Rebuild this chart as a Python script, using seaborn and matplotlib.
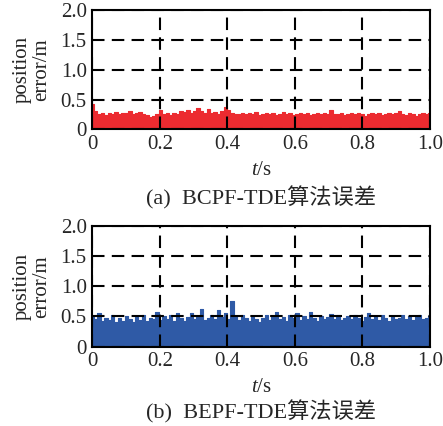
import numpy as np
import matplotlib
matplotlib.use("Agg")
import matplotlib.pyplot as plt
import seaborn as sns
import pandas as pd

# ---- data (upper envelope of the dense error signal) ----
red_upper = [0.42,0.30,0.26,0.28,0.24,0.27,0.25,0.29,0.26,0.28,
             0.27,0.30,0.25,0.28,0.29,0.26,0.24,0.21,0.22,0.26,
             0.33,0.25,0.27,0.24,0.28,0.26,0.30,0.29,0.33,0.27,
             0.31,0.35,0.30,0.28,0.34,0.27,0.29,0.26,0.31,0.37,
             0.33,0.27,0.26,0.25,0.28,0.26,0.27,0.25,0.29,0.24,
             0.26,0.27,0.25,0.28,0.24,0.26,0.29,0.25,0.27,0.24,
             0.26,0.28,0.25,0.27,0.24,0.26,0.27,0.25,0.28,0.26,
             0.33,0.26,0.25,0.27,0.24,0.26,0.28,0.25,0.27,0.25,
             0.22,0.26,0.28,0.25,0.27,0.24,0.26,0.28,0.25,0.27,
             0.31,0.26,0.24,0.27,0.25,0.22,0.26,0.28,0.25,0.27]
blue_upper = [0.50,0.45,0.55,0.42,0.48,0.44,0.52,0.40,0.47,0.43,
              0.50,0.46,0.41,0.49,0.44,0.53,0.42,0.47,0.45,0.58,
              0.44,0.50,0.46,0.52,0.43,0.55,0.47,0.42,0.49,0.56,
              0.45,0.51,0.62,0.44,0.48,0.53,0.46,0.60,0.49,0.55,
              0.45,0.75,0.50,0.44,0.52,0.47,0.42,0.49,0.45,0.40,
              0.48,0.53,0.44,0.50,0.58,0.46,0.49,0.43,0.52,0.47,
              0.55,0.44,0.50,0.46,0.58,0.48,0.43,0.51,0.45,0.49,
              0.54,0.46,0.52,0.44,0.48,0.50,0.45,0.53,0.47,0.42,
              0.49,0.55,0.46,0.50,0.44,0.52,0.47,0.43,0.51,0.45,
              0.48,0.53,0.46,0.50,0.44,0.49,0.52,0.45,0.48,0.50]
t = np.linspace(0, 1, len(red_upper))

x_ticks = [0, 0.2, 0.4, 0.6, 0.8, 1.0]
x_labels = ["0", "0.2", "0.4", "0.6", "0.8", "1.0"]
y_ticks = [0, 0.5, 1.0, 1.5, 2.0]
y_labels = ["0", "0.5", "1.0", "1.5", "2.0"]
captions = ["(a)  BCPF-TDE算法误差", "(b)  BEPF-TDE算法误差"]
colors = ["#ec2b30", "#2f5aa6"]

sns.set_style("white")
plt.rcParams['font.family'] = ['Liberation Serif', 'Noto Sans CJK SC']
plt.rcParams['mathtext.fontset'] = 'custom'
plt.rcParams['mathtext.it'] = 'Liberation Serif:italic'
plt.rcParams['mathtext.rm'] = 'Liberation Serif'

FS = 15
fig = plt.figure(figsize=(4.43, 4.26), dpi=100)
axes = [fig.add_axes([0.2084, 0.6965, 0.7623, 0.2793]),
        fig.add_axes([0.2084, 0.1866, 0.7623, 0.2829])]

for ax, ydata, col, cap in zip(axes, [red_upper, blue_upper], colors, captions):
    df = pd.DataFrame({"t": t, "err": ydata})
    sns.lineplot(data=df, x="t", y="err", ax=ax, color=col, lw=0.8, drawstyle="steps-mid")
    ax.fill_between(df["t"], 0, df["err"], step="mid", color=col, lw=0)
    ax.set_xlim(0, 1)
    ax.set_ylim(0, 2)
    ax.set_xticks(x_ticks)
    ax.set_xticklabels(x_labels)
    ax.set_yticks(y_ticks)
    ax.set_yticklabels(y_labels)
    ax.tick_params(length=0, labelsize=FS, pad=4)
    ax.grid(True, color="black", linestyle=(0, (6, 3.5)), lw=1.5)
    ax.set_axisbelow(False)
    for s in ax.spines.values():
        s.set_color("black")
        s.set_linewidth(1.5)
    ax.set_xlabel(r"$t$/s", fontsize=FS, labelpad=5)
    ax.set_ylabel("position\nerror/m", fontsize=FS, labelpad=7, linespacing=1.0)

fig.text(0.589, 0.535, captions[0], fontsize=16, ha="center", va="center")
fig.text(0.589, 0.033, captions[1], fontsize=16, ha="center", va="center")

fig.savefig("out.png", dpi=100)
